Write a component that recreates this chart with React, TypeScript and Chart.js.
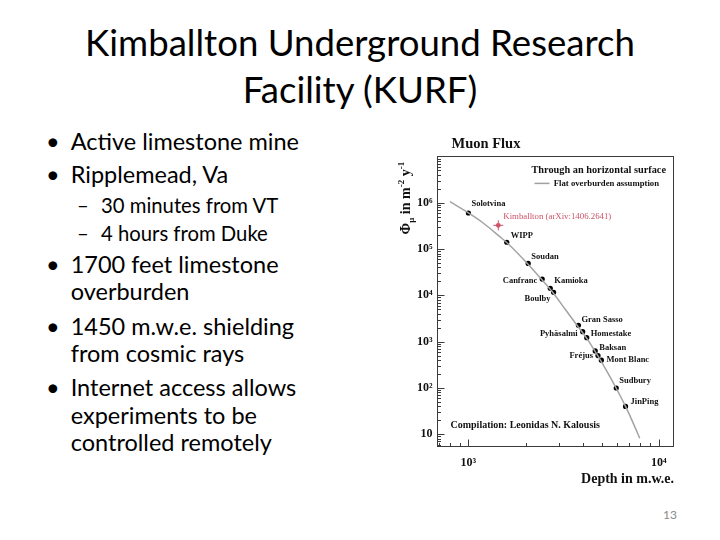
import React, { useEffect, useRef } from 'react';
import { Chart, registerables } from 'chart.js';

Chart.register(...registerables);

// ---------- slide text ----------
const titleLines = ['Kimballton Underground Research', 'Facility (KURF)'];
const bulletTexts = [
  'Active limestone mine',
  'Ripplemead, Va',
  '30 minutes from VT',
  '4 hours from Duke',
  '1700 feet limestone',
  'overburden',
  '1450 m.w.e. shielding',
  'from cosmic rays',
  'Internet access allows',
  'experiments to be',
  'controlled remotely',
];
const bulletKinds = ['dot', 'dot', 'dash', 'dash', 'dot', 'cont', 'dot', 'cont', 'dot', 'cont', 'cont'];
const pageNumber = '13';

// ---------- chart data ----------
const curveDepth = [800, 1000, 1200, 1450, 1600, 2000, 2400, 2800, 3200, 3800, 4200, 4800, 5400, 6000, 6700, 7400, 7930];
const curveFlux = [1.05e6, 6.0e5, 3.6e5, 1.9e5, 1.35e5, 5.3e4, 2.3e4, 1.1e4, 5.2e3, 2.0e3, 1.15e3, 4.8e2, 2.1e2, 9.5e1, 3.9e1, 1.6e1, 8.2];

const labNames = ['Solotvina', 'WIPP', 'Soudan', 'Canfranc', 'Kamioka', 'Boulby', 'Gran Sasso', 'Pyhäsalmi', 'Homestake', 'Baksan', 'Fréjus', 'Mont Blanc', 'Sudbury', 'JinPing'];
const labDepth = [1000, 1590, 2060, 2440, 2690, 2800, 3780, 3980, 4180, 4630, 4790, 4990, 5970, 6680];
const labFlux = [6.0e5, 1.4e5, 4.9e4, 2.25e4, 1.42e4, 1.16e4, 2255, 1640, 1220, 630, 500, 398, 100, 40];

const kurfName = 'Kimballton (arXiv:1406.2641)';
const kurfDepth = [1435];
const kurfFlux = [3.25e5];

const chartTitle = 'Muon Flux';
const legendHeader = 'Through an horizontal surface';
const legendEntry = 'Flat overburden assumption';
const compilationText = 'Compilation: Leonidas N. Kalousis';
const xTitle = 'Depth in m.w.e.';
const maxLabelledPower = 6;

// ---------- layout / style ----------
const bulletBaselines = [151, 184.3, 213.3, 241, 274, 300.7, 336, 363.3, 396.7, 425, 451.7];
const labelPlacement: [number, number, CanvasTextAlign][] = [
  [3, -9, 'left'], [4, -6, 'left'], [3, -7, 'left'], [-5, 2, 'right'], [4, -7, 'left'], [-3, 6, 'right'],
  [3, -6, 'left'], [-5, 2, 'right'], [4, -4, 'left'], [4, -3, 'left'], [-5, 0, 'right'], [5, 0, 'left'],
  [3, -7, 'left'], [5, -5, 'left'],
];
const kurfPlacement: [number, number] = [5, -9];
const SERIF = '"Liberation Serif", "DejaVu Serif", serif';
const SANS = 'Lato, "Open Sans", sans-serif';
const KURF_COLOR = '#cc5468';

const SUP: Record<string, string> = { '0': '⁰', '1': '¹', '2': '²', '3': '³', '4': '⁴', '5': '⁵', '6': '⁶', '7': '⁷', '-': '⁻' };
function powLabel(v: number): string {
  const l = Math.log10(v);
  if (Math.abs(l - Math.round(l)) > 1e-6) return '';
  const e = Math.round(l);
  if (e > maxLabelledPower) return '';
  if (e === 1) return '10';
  return '10' + String(e).split('').map((c) => SUP[c] || c).join('');
}

const decorPlugin = {
  id: 'rootDecor',
  afterDraw(chart: any) {
    const { ctx, chartArea: a } = chart;
    const xs = chart.scales.x;
    const ys = chart.scales.y;
    ctx.save();
    ctx.strokeStyle = '#3a3a3a';
    ctx.lineWidth = 1;
    const L = Math.round(a.left) + 0.5;
    const R = Math.round(a.right) - 0.5;
    const T = Math.round(a.top) + 0.5;
    const B = Math.round(a.bottom) - 0.5;
    ctx.strokeRect(L, T, R - L, B - T);
    // ticks inside frame
    ctx.beginPath();
    for (let e = 2; e <= 4; e++) {
      for (let m = 1; m <= 9; m++) {
        const v = m * Math.pow(10, e);
        if (v < xs.min || v > xs.max || (e === 4 && m > 1)) continue;
        const px = Math.round(xs.getPixelForValue(v)) + 0.5;
        const len = m === 1 ? 7 : 3.5;
        ctx.moveTo(px, B);
        ctx.lineTo(px, B - len);
      }
    }
    for (let e = 0; e <= 7; e++) {
      for (let m = 1; m <= 9; m++) {
        const v = m * Math.pow(10, e);
        if (v < ys.min || v > ys.max) continue;
        const py = Math.round(ys.getPixelForValue(v)) + 0.5;
        const len = m === 1 ? 7 : 3.5;
        ctx.moveTo(L, py);
        ctx.lineTo(L + len, py);
      }
    }
    ctx.stroke();

    ctx.fillStyle = '#111';
    ctx.textBaseline = 'middle';
    // chart title
    ctx.font = `bold 14.5px ${SERIF}`;
    ctx.textAlign = 'left';
    ctx.fillText(chartTitle, a.left + 15, a.top - 12);
    // legend
    ctx.font = `bold 10.3px ${SERIF}`;
    ctx.textAlign = 'right';
    ctx.fillText(legendHeader, a.right - 8, a.top + 13.6);
    ctx.font = `bold 8.7px ${SERIF}`;
    ctx.fillText(legendEntry, a.right - 15, a.top + 27);
    ctx.strokeStyle = '#a0a0a0';
    ctx.lineWidth = 1.5;
    ctx.beginPath();
    ctx.moveTo(a.left + 98, a.top + 27);
    ctx.lineTo(a.left + 113, a.top + 27);
    ctx.stroke();
    // compilation
    ctx.font = `bold 10px ${SERIF}`;
    ctx.textAlign = 'left';
    ctx.fillText(compilationText, a.left + 14, a.bottom - 21.5);
    // x title
    ctx.font = `bold 14px ${SERIF}`;
    ctx.textAlign = 'right';
    ctx.fillText(xTitle, a.right, a.bottom + 33);

    // point labels
    const labMeta = chart.getDatasetMeta(1);
    ctx.font = `bold 8.5px ${SERIF}`;
    labMeta.data.forEach((pt: any, i: number) => {
      const [dx, dy, al] = labelPlacement[i];
      ctx.textAlign = al;
      ctx.fillText(labNames[i], pt.x + dx, pt.y + dy);
    });
    const kMeta = chart.getDatasetMeta(2);
    ctx.fillStyle = KURF_COLOR;
    ctx.font = `8.8px ${SERIF}`;
    ctx.textAlign = 'left';
    kMeta.data.forEach((pt: any) => {
      ctx.fillText(kurfName, pt.x + kurfPlacement[0], pt.y + kurfPlacement[1]);
    });

    // y title (rotated), drawn from bottom up
    ctx.fillStyle = '#111';
    ctx.translate(a.left - 31.5, a.top + 78);
    ctx.rotate(-Math.PI / 2);
    ctx.textAlign = 'left';
    ctx.textBaseline = 'alphabetic';
    const pieces: [string, number, number][] = [
      ['Φ', 14, 0], ['μ', 9, 4], [' in m', 14, 0], ['-2', 9, -6], [' y', 14, 0], ['-1', 9, -6],
    ];
    let cx = 0;
    pieces.forEach(([t, s, dy]) => {
      ctx.font = `bold ${s}px ${SERIF}`;
      ctx.fillText(t, cx, 5 + dy);
      cx += ctx.measureText(t).width;
    });
    ctx.restore();
  },
};

function MuonChart() {
  const ref = useRef<HTMLCanvasElement | null>(null);
  useEffect(() => {
    if (!ref.current) return;
    const chart = new Chart(ref.current, {
      type: 'scatter',
      data: {
        datasets: [
          {
            label: legendEntry,
            data: curveDepth.map((d, i) => ({ x: d, y: curveFlux[i] })),
            showLine: true,
            borderColor: '#a3a3a3',
            borderWidth: 1.5,
            pointRadius: 0,
            cubicInterpolationMode: 'monotone',
          },
          {
            label: 'labs',
            data: labDepth.map((d, i) => ({ x: d, y: labFlux[i] })),
            pointRadius: 2.6,
            backgroundColor: '#000',
            borderWidth: 0,
          },
          {
            label: kurfName,
            data: kurfDepth.map((d, i) => ({ x: d, y: kurfFlux[i] })),
            pointRadius: 2.4,
            backgroundColor: KURF_COLOR,
            borderWidth: 0,
          },
          {
            label: kurfName + ' err',
            data: kurfDepth.map((d, i) => ({ x: d, y: kurfFlux[i] })),
            pointStyle: 'cross',
            pointRadius: 5,
            borderColor: KURF_COLOR,
            borderWidth: 1,
          },
        ],
      } as any,
      options: {
        animation: false,
        responsive: false,
        maintainAspectRatio: false,
        layout: { padding: { top: 31.4, right: 16, left: 0, bottom: 0 } },
        plugins: { legend: { display: false }, tooltip: { enabled: false }, title: { display: false } },
        scales: {
          x: {
            type: 'logarithmic',
            min: 680,
            max: 12000,
            afterFit: (s: any) => { s.height = 53.5; },
            grid: { display: false, drawTicks: false },
            border: { display: false },
            ticks: {
              autoSkip: false,
              maxRotation: 0,
              padding: 9,
              color: '#111',
              font: { family: SERIF, weight: 'bold', size: 12 },
              callback: (v: any) => powLabel(Number(v)),
            },
          },
          y: {
            type: 'logarithmic',
            min: 5.45,
            max: 1e7,
            afterFit: (s: any) => { s.width = 56.5; },
            grid: { display: false, drawTicks: false },
            border: { display: false },
            ticks: {
              autoSkip: false,
              padding: 4,
              color: '#111',
              font: { family: SERIF, weight: 'bold', size: 12 },
              callback: (v: any) => powLabel(Number(v)),
            },
          },
        },
      } as any,
      plugins: [decorPlugin],
    });
    return () => chart.destroy();
  }, []);
  return (
    <canvas
      ref={ref}
      width={310}
      height={375}
      style={{ position: 'absolute', left: 380, top: 125, width: 310, height: 375 }}
    />
  );
}

export default function App() {
  const titleFs = 36.6;
  const fs1 = 23.5;
  const fs2 = 20.3;
  return (
    <div style={{ position: 'fixed', left: 0, top: 0, width: 720, height: 540, background: '#fff', overflow: 'hidden', fontFamily: SANS, color: '#000' }}>
      {titleLines.map((t, i) => (
        <div key={t} style={{ position: 'absolute', left: 0, width: 720, textAlign: 'center', top: [56.7, 103.3][i] - titleFs * 0.887, fontSize: titleFs, lineHeight: `${titleFs}px`, whiteSpace: 'nowrap' }}>
          {t}
        </div>
      ))}
      {bulletTexts.map((t, i) => {
        const kind = bulletKinds[i];
        const sub = kind === 'dash';
        const fs = sub ? fs2 : fs1;
        const top = bulletBaselines[i] - fs * 0.887;
        return (
          <React.Fragment key={t}>
            {kind === 'dot' && (
              <div style={{ position: 'absolute', left: 46, top, fontSize: fs, lineHeight: `${fs}px` }}>•</div>
            )}
            {kind === 'dash' && (
              <div style={{ position: 'absolute', left: 77, top, fontSize: fs, lineHeight: `${fs}px` }}>–</div>
            )}
            <div style={{ position: 'absolute', left: sub ? 101 : 70.7, top, fontSize: fs, lineHeight: `${fs}px`, whiteSpace: 'nowrap' }}>{t}</div>
          </React.Fragment>
        );
      })}
      <div style={{ position: 'absolute', right: 43, top: 515 - 6.5, fontSize: 12, lineHeight: '12px', color: '#8a8a8a' }}>{pageNumber}</div>
      <MuonChart />
    </div>
  );
}
